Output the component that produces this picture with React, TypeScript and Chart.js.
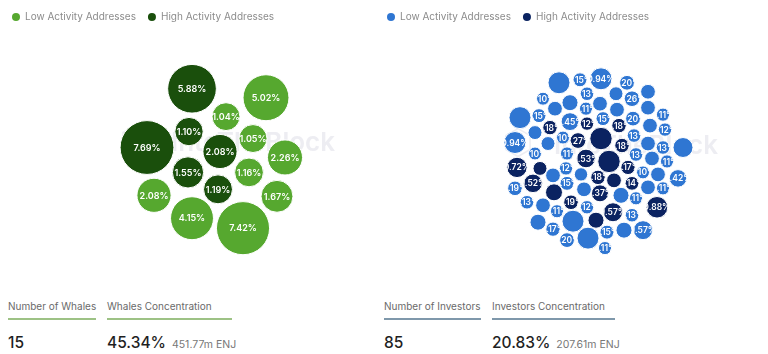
import React, { useEffect, useRef } from "react";
import { Chart, registerables } from "chart.js";

Chart.register(...registerables);

// ---------- DATA ----------
const legendLabels = ["Low Activity Addresses", "High Activity Addresses"];

// Whales bubbles: [packX, packY, share %]
const whalesLow: [number, number, number][] = [
  [51, 60, 5.02], [11, 41, 1.04], [38, 19, 1.05], [70, 0, 2.26], [34, -15, 1.16],
  [-61, -38, 2.08], [62, -39, 1.67], [-23, -61, 4.15], [28, -71, 7.42],
];
const whalesHigh: [number, number, number][] = [
  [-23, 69, 5.88], [-26, 26, 1.10], [-68, 10, 7.69], [5, 6, 2.08], [-27, -15, 1.55], [3, -32, 1.19],
];

// Investors bubbles: [packX, packY, share %, label visible]
const investorsLow: [number, number, number, number][] = [
  [-39, 78, 0.94, 0], [-18, 81, 0.15, 1], [3, 82, 0.94, 1], [29, 78, 0.20, 1],
  [-55, 62, 0.10, 1], [-11, 67, 0.13, 1], [18, 67, 0.15, 0], [50, 69, 0.20, 0], [34, 62, 0.26, 1], [-28, 58, 0.29, 0],
  [-59, 45, 0.15, 1], [-78, 43, 0.94, 0], [-43, 52, 0.20, 0], [-12, 52, 0.11, 1], [19, 51, 0.20, 0], [50, 53, 0.20, 0], [65, 46, 0.11, 1],
  [-28, 39, 0.45, 1], [5, 42, 0.15, 1], [35, 42, 0.20, 1], [52, 35, 0.20, 0], [67, 31, 0.12, 1],
  [-83, 18, 0.94, 1], [-63, 28, 0.15, 0], [-35, 23, 0.10, 1], [36, 25, 0.13, 1], [50, 17, 0.20, 0], [65, 13, 0.13, 1], [85, 13, 0.68, 0],
  [-50, 17, 0.15, 0], [-63, 7, 0.10, 1], [-31, 7, 0.11, 1], [38, 6, 0.13, 1], [54, 2, 0.20, 0], [69, -1, 0.11, 1],
  [-32, -8, 0.12, 1], [-45, -15, 0.20, 0], [-17, -14, 0.12, 0], [45, -12, 0.10, 1], [60, -14, 0.20, 0], [80, -18, 0.42, 1],
  [50, -27, 0.20, 0], [65, -28, 0.11, 1], [-83, -28, 0.19, 1], [-31, -23, 0.15, 1], [-14, -29, 0.20, 0], [23, -35, 0.29, 0], [38, -38, 0.11, 1],
  [-71, -42, 0.13, 1], [-55, -45, 0.20, 0], [-11, -47, 0.12, 1], [-41, -51, 0.11, 1], [34, -55, 0.13, 1], [-60, -62, 0.29, 0], [-25, -61, 0.94, 0],
  [-45, -69, 0.17, 1], [26, -70, 0.29, 0], [45, -70, 0.57, 1], [9, -72, 0.15, 1], [-31, -80, 0.20, 1], [-10, -78, 0.94, 0], [7, -88, 0.11, 1],
  [2, 57, 0.20, 0],
];
const investorsHigh: [number, number, number, number][] = [
  [-11, 37, 0.12, 1], [-48, 33, 0.18, 1], [21, 35, 0.18, 1], [-20, 20, 0.27, 1], [3, 22, 1.0, 0], [24, 15, 0.18, 1],
  [-12, 2, 0.53, 1], [11, -1, 1.0, 0], [-81, -7, 0.72, 1], [-58, -8, 0.15, 0], [0, -17, 0.18, 1], [30, -7, 0.17, 1],
  [16, -20, 0.20, 0], [34, -23, 0.14, 1], [-65, -23, 0.52, 1], [-44, -32, 0.37, 0], [2, -33, 0.37, 1], [59, -47, 0.88, 1],
  [-27, -42, 0.19, 1], [-2, -60, 0.29, 0], [15, -52, 0.57, 1],
];

const whalesStats = { count: "15", countLabel: "Number of Whales", concLabel: "Whales Concentration", conc: "45.34%", amount: "451.77m ENJ" };
const investorsStats = { count: "85", countLabel: "Number of Investors", concLabel: "Investors Concentration", conc: "20.83%", amount: "207.61m ENJ" };

// ---------- PLUGINS ----------
const watermarkPlugin = {
  id: "watermark",
  beforeDatasetsDraw(chart: any) {
    const { ctx } = chart;
    const cx = chart.scales.x.getPixelForValue(0) + 38;
    const cy = chart.scales.y.getPixelForValue(14);
    ctx.save();
    ctx.fillStyle = "rgba(236,236,241,0.95)";
    ctx.strokeStyle = "rgba(236,236,241,0.95)";
    ctx.font = "600 26px Inter, sans-serif";
    ctx.textAlign = "center";
    ctx.textBaseline = "middle";
    ctx.fillText("IntoTheBlock", cx, cy);
    const hx = cx - 118, hy = cy - 4;
    ctx.lineWidth = 1.5;
    ctx.beginPath();
    for (let k = 0; k < 6; k++) {
      const a = Math.PI / 6 + (k * Math.PI) / 3;
      const px = hx + 14 * Math.cos(a), py = hy + 14 * Math.sin(a);
      k === 0 ? ctx.moveTo(px, py) : ctx.lineTo(px, py);
    }
    ctx.closePath();
    ctx.stroke();
    ctx.restore();
  },
};

const bubbleLabelPlugin = {
  id: "bubbleLabels",
  afterDatasetsDraw(chart: any) {
    const { ctx } = chart;
    const font = chart.options.plugins.bubbleLabels?.font || "600 9px Inter, sans-serif";
    chart.data.datasets.forEach((ds: any, di: number) => {
      const meta = chart.getDatasetMeta(di);
      meta.data.forEach((el: any, i: number) => {
        const raw = ds.data[i];
        if (!raw.show) return;
        const r = el.options.radius;
        ctx.save();
        ctx.beginPath();
        ctx.arc(el.x, el.y, r, 0, Math.PI * 2);
        ctx.clip();
        ctx.font = font;
        ctx.textAlign = "center";
        ctx.textBaseline = "middle";
        ctx.fillStyle = "#ffffff";
        ctx.fillText(raw.v.toFixed(2) + "%", el.x, el.y + 0.5);
        ctx.restore();
      });
    });
  },
};

// ---------- CHART ----------
type Pt = [number, number, number, number?];

function BubblePanel(props: {
  low: Pt[]; high: Pt[]; colors: [string, string]; rBase: number; rScale: number;
  xMin: number; xMax: number; yMin: number; yMax: number; labelFont: string;
  left: number; width: number;
}) {
  const ref = useRef<HTMLCanvasElement>(null);
  useEffect(() => {
    const toPts = (arr: Pt[]) =>
      arr.map(([x, y, v, s]) => ({ x, y, v, r: props.rBase + props.rScale * Math.sqrt(v), show: s === undefined ? 1 : s }));
    const chart = new Chart(ref.current!, {
      type: "bubble",
      data: {
        datasets: [
          { label: legendLabels[0], data: toPts(props.low) as any, backgroundColor: props.colors[0], borderColor: "#ffffff", borderWidth: 1, clip: false as any },
          { label: legendLabels[1], data: toPts(props.high) as any, backgroundColor: props.colors[1], borderColor: "#ffffff", borderWidth: 1, clip: false as any },
        ],
      },
      options: {
        responsive: false,
        animation: false,
        events: [],
        layout: { autoPadding: false, padding: 0 },
        scales: {
          x: { type: "linear", display: false, min: props.xMin, max: props.xMax },
          y: { type: "linear", display: false, min: props.yMin, max: props.yMax },
        },
        plugins: {
          tooltip: { enabled: false },
          legend: {
            display: true,
            position: "top",
            align: "start",
            labels: {
              usePointStyle: true,
              pointStyle: "circle",
              boxHeight: 5.66,
              pointStyleWidth: 8,
              padding: 12,
              color: "#8c8c8c",
              font: { family: "Inter, sans-serif", size: 10 },
              generateLabels: (c: any) =>
                (Chart.defaults.plugins.legend.labels as any).generateLabels(c).map((l: any) => ({ ...l, lineWidth: 0, strokeStyle: l.fillStyle })),
            },
          },
          bubbleLabels: { font: props.labelFont },
        } as any,
      },
      plugins: [watermarkPlugin, bubbleLabelPlugin],
    });
    return () => chart.destroy();
  }, []);
  return (
    <canvas
      ref={ref}
      width={props.width}
      height={270}
      style={{ position: "absolute", left: props.left, top: 0, width: props.width, height: 270 }}
    />
  );
}

function Stat(props: { left: number; width: number; label: string; value: string; sub?: string; rule: string }) {
  return (
    <>
      <div style={{ position: "absolute", left: props.left, top: 298, fontSize: 10, lineHeight: "16px", color: "#6a6a6a", whiteSpace: "nowrap" }}>
        {props.label}
      </div>
      <div style={{ position: "absolute", left: props.left, top: 318, width: props.width, height: 2, background: props.rule }} />
      <div style={{ position: "absolute", left: props.left, top: 332, fontSize: 15.5, lineHeight: "22px", color: "#1f1f1f", fontWeight: 500, whiteSpace: "nowrap" }}>
        {props.value}
        {props.sub && (
          <span style={{ fontSize: 10.5, color: "#777", fontWeight: 400, marginLeft: 6 }}>{props.sub}</span>
        )}
      </div>
    </>
  );
}

export default function App() {
  return (
    <div style={{ position: "fixed", left: 0, top: 0, width: 768, height: 354, background: "#fff", fontFamily: "Inter, sans-serif", overflow: "hidden" }}>
      <BubblePanel
        low={whalesLow} high={whalesHigh} colors={["#56a82f", "#1a4f0c"]} rBase={6.4} rScale={7.4}
        xMin={-215} xMax={169} yMin={-113} yMax={126} labelFont="600 9px Inter, sans-serif" left={0} width={384}
      />
      <BubblePanel
        low={investorsLow} high={investorsHigh} colors={["#2f76d2", "#0b2361"]} rBase={4.3} rScale={6.9}
        xMin={-223} xMax={170} yMin={-110} yMax={129} labelFont="600 8.5px Inter, sans-serif" left={375} width={393}
      />
      <Stat left={8} width={88} label={whalesStats.countLabel} value={whalesStats.count} rule="#9dc285" />
      <Stat left={107} width={125} label={whalesStats.concLabel} value={whalesStats.conc} sub={whalesStats.amount} rule="#9dc285" />
      <Stat left={384} width={97} label={investorsStats.countLabel} value={investorsStats.count} rule="#7f98ab" />
      <Stat left={492} width={123} label={investorsStats.concLabel} value={investorsStats.conc} sub={investorsStats.amount} rule="#7f98ab" />
    </div>
  );
}
